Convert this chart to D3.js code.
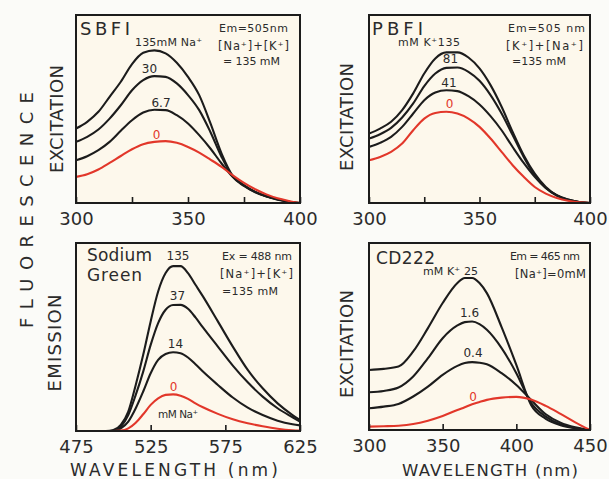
<!DOCTYPE html>
<html><head><meta charset="utf-8">
<script src="https://cdn.jsdelivr.net/npm/d3@7"></script>
<style>
body{margin:0;background:#fbfbf8;}
text{font-family:"DejaVu Sans",sans-serif;fill:#2b2b2b;}
</style>
</head><body>
<svg id="chart" width="609" height="479"></svg>
<script>
// ---------- DATA ----------
const sbfiWl = [300,305,310,315,320,325,330,335,340,345,350,355,360,365,370,375,380,385,390,395,400];
const sbfi135 = [39.6,43.2,48.5,56.5,64.5,73.9,79.9,81.2,79.6,74.6,67.1,57.4,42.5,26.3,14.4,9.4,5.9,3.6,2.0,0.7,0];
const sbfi30  = [32.5,35.2,39.1,44.9,52.0,60.0,65.4,67.5,67.1,63.6,57.4,49.4,37.8,24.5,13.9,9.1,5.7,3.4,1.8,0.7,0];
const sbfi6_7 = [22.7,24.9,28.1,32.5,38.4,44.0,48.1,49.6,49.4,46.7,42.3,36.1,29.0,21.0,13.9,9.4,5.9,3.6,2.0,0.7,0];
const sbfi0   = [13.9,15.3,17.8,21.3,25.0,28.6,31.3,32.5,32.9,32.0,29.8,26.8,23.1,19.2,14.7,10.7,7.3,4.6,2.5,1.1,0];

const pbfiWl = [300,305,310,315,320,325,330,335,340,345,350,355,360,365,370,375,380,385,390,395,400];
const pbfi135 = [36.9,39.6,43.2,49.4,58.3,68.9,76.9,80.1,80.1,77.4,71.6,62.7,51.2,37.8,25.4,15.6,8.5,4.1,1.8,0.5,0];
const pbfi81  = [34.3,36.6,40.0,45.5,53.0,62.2,68.9,71.9,72.1,69.8,65.0,57.4,47.6,36.1,24.5,14.7,8.0,3.9,1.6,0.5,0];
const pbfi41  = [29.8,32.0,35.2,40.5,47.6,54.7,58.8,60.0,59.5,56.8,52.4,46.2,38.7,29.8,21.3,13.9,8.0,4.1,1.8,0.5,0];
const pbfi0   = [22.7,24.5,27.2,31.6,38.7,44.9,47.9,48.5,47.6,44.9,40.5,34.3,27.2,20.1,13.9,8.5,5.0,2.7,1.2,0.4,0];

const sgWl = [475,485,495,500,505,510,515,520,525,530,535,540,545,550,555,560,570,580,590,600,610,620,625];
const sg135 = [0,0,0,0.5,3.2,10.3,24.5,40.5,58.3,74.2,84.0,87.7,87.7,84.0,77.8,71.6,58.3,44.9,32.5,22.7,14.7,8.5,5.9];
const sg37  = [0,0,0,0,2.3,8.5,19.2,31.6,45.8,57.4,64.5,67.0,67.1,65.0,60.4,55.1,44.9,34.8,25.9,18.3,12.1,7.3,5.0];
const sg14  = [0,0,0,0,1.4,5.0,12.1,21.0,30.7,37.8,41.0,41.9,41.4,39.1,35.5,31.6,24.5,17.8,12.4,8.5,5.5,3.6,3.0];
const sg0   = [0,0,0,0,0.2,1.4,4.4,8.9,13.9,17.4,19.2,19.5,18.8,17.1,14.7,12.6,9.1,6.2,4.1,2.5,1.2,0.4,0.2];

const cdWl = [300,310,320,330,340,350,360,365,370,375,380,390,400,410,420,430,440,450];
const cd25  = [32.1,32.7,33.9,42.0,54.5,67.9,78.6,81.3,81.3,78.6,73.2,55.0,34.8,13.4,6.0,2.6,0.9,0];
const cd1_6 = [20.2,20.9,22.7,28.6,38.4,49.1,55.9,57.7,58.0,56.6,53.6,43.8,30.4,14.5,7.1,3.0,1.1,0];
const cd0_4 = [11.6,12.5,13.9,17.9,23.2,29.5,34.3,35.8,36.3,36.0,35.2,30.4,24.1,16.1,8.4,3.9,1.4,0];
const cd0   = [1.8,2.0,2.3,3.2,5.0,7.5,10.7,12.2,13.8,15.0,16.1,17.3,17.7,16.3,12.9,8.6,4.1,0];

const sbfiTicks = [300,325,350,375,400], sbfiTickLabels = [300,350,400];
const pbfiTicks = [300,325,350,375,400], pbfiTickLabels = [300,350,400];
const sgTicks = [475,525,575,625], sgTickLabels = [475,525,575,625];
const cdTicks = [300,350,400,450], cdTickLabels = [300,350,400,450];

// ---------- DRAW ----------
const RED = "#e2372a", BLACK = "#1c1c1c";
const svg = d3.select("#chart");

const panels = [
  {box:[76,15,300,203], dom:[300,400], wl:sbfiWl, ticks:sbfiTicks, tl:sbfiTickLabels, ylab:"EXCITATION", ylx:57, yly:119, ylw:108,
   series:[sbfi135,sbfi30,sbfi6_7,sbfi0]},
  {box:[369,15,590,203], dom:[300,400], wl:pbfiWl, ticks:pbfiTicks, tl:pbfiTickLabels, ylab:"EXCITATION", ylx:347, yly:117, ylw:108,
   series:[pbfi135,pbfi81,pbfi41,pbfi0]},
  {box:[76,243,300,431], dom:[475,625], wl:sgWl, ticks:sgTicks, tl:sgTickLabels, ylab:"EMISSION", ylx:55, yly:343, ylw:97,
   series:[sg135,sg37,sg14,sg0]},
  {box:[369,243,590,430], dom:[300,450], wl:cdWl, ticks:cdTicks, tl:cdTickLabels, ylab:"EXCITATION", ylx:347, yly:344, ylw:108,
   series:[cd25,cd1_6,cd0_4,cd0]}
];

panels.forEach(p => {
  const [x0,y0,x1,y1] = p.box;
  const x = d3.scaleLinear().domain(p.dom).range([x0,x1]);
  const y = d3.scaleLinear().domain([0,100]).range([y1,y0]);
  svg.append("rect").attr("x",x0).attr("y",y0).attr("width",x1-x0).attr("height",y1-y0)
     .attr("fill","#fdf8ec");
  const line = d3.line().x((d,i)=>x(p.wl[i])).y(d=>y(d)).curve(d3.curveMonotoneX);
  const clip = "clip"+x0+"_"+y0;
  svg.append("clipPath").attr("id",clip).append("rect").attr("x",x0).attr("y",y0-2).attr("width",x1-x0).attr("height",y1-y0+2);
  const g = svg.append("g").attr("clip-path",`url(#${clip})`);
  p.series.forEach((s,i) => {
    g.append("path").datum(s).attr("d",line).attr("fill","none")
      .attr("stroke", i===3 ? RED : BLACK).attr("stroke-width", 2.1).attr("stroke-linejoin","round");
  });
  const ax = d3.axisBottom(x).tickValues(p.ticks).tickSizeInner(-6).tickSizeOuter(0).tickPadding(9)
     .tickFormat(d => p.tl.includes(d) ? d : "");
  const ga = svg.append("g").attr("transform",`translate(0,${y1})`).call(ax);
  ga.select(".domain").remove();
  ga.selectAll("line").attr("stroke",BLACK).attr("stroke-width",1.6);
  ga.selectAll("text").attr("font-size",18).attr("fill","#333").style("font-family","'DejaVu Sans',sans-serif");
  svg.append("rect").attr("x",x0).attr("y",y0).attr("width",x1-x0).attr("height",y1-y0)
     .attr("fill","none").attr("stroke",BLACK).attr("stroke-width",2);
  svg.append("text").attr("transform",`translate(${p.ylx},${p.yly}) rotate(-90)`)
     .attr("text-anchor","middle").attr("dy","0.36em").attr("font-size",18)
     .attr("textLength",p.ylw).attr("lengthAdjust","spacing").text(p.ylab);
});

// annotations: [text, x, y, size, width|null, anchor, color]
const notes = [
  ["SBFI",80,35,18,50,"start"],
  ["135mM Na⁺",135,46,11,67,"start"],
  ["30",149.5,72.5,12,null,"middle"],
  ["6.7",161,106.5,12,null,"middle"],
  ["0",156.5,139,12,null,"middle",RED],
  ["Em=505nm",219,31.7,11,69,"start"],
  ["[Na⁺]+[K⁺]",218,50,11.5,71,"start"],
  ["= 135 mM",223,65,11,57,"start"],

  ["PBFI",372,35,18,51,"start"],
  ["mM K⁺135",398,46,11,62,"start"],
  ["81",450.5,63,12,null,"middle"],
  ["41",449,86.5,12,null,"middle"],
  ["0",449.5,108,12,null,"middle",RED],
  ["Em=505 nm",508,31.7,11,77,"start"],
  ["[K⁺]+[Na⁺]",506,50,11.5,77,"start"],
  ["=135 mM",512,65,11,54,"start"],

  ["Sodium",87,261.3,17,65,"start"],
  ["Green",87,280.7,17,55,"start"],
  ["135",178,259.7,12,null,"middle"],
  ["37",177.5,300.3,12,null,"middle"],
  ["14",175.5,348,12,null,"middle"],
  ["0",173.5,391.3,12,null,"middle",RED],
  ["mM Na⁺",158,418,10.5,40,"start"],
  ["Ex = 488 nm",222,259.7,11,70,"start"],
  ["[Na⁺]+[K⁺]",220,278,11.5,73,"start"],
  ["=135 mM",222,295.3,11,56,"start"],

  ["CD222",376,263.5,17,59,"start"],
  ["mM K⁺ 25",423,275,11,55,"start"],
  ["1.6",469.5,317.3,12,null,"middle"],
  ["0.4",473,357.3,12,null,"middle"],
  ["0",473,401.3,12,null,"middle",RED],
  ["Em = 465 nm",510,259.7,11,70,"start"],
  ["[Na⁺]=0mM",515,278,11.5,71,"start"],

  ["WAVELENGTH (nm)",70,476,17,208,"start"],
  ["WAVELENGTH (nm)",402,476,16.5,176,"start"]
];
notes.forEach(n => {
  const t = svg.append("text").attr("x",n[1]).attr("y",n[2]).attr("font-size",n[3])
    .attr("text-anchor",n[5]).text(n[0]);
  if (n[4]) t.attr("textLength",n[4]).attr("lengthAdjust","spacing");
  if (n[6]) t.style("fill",n[6]);
});

svg.append("text").attr("transform","translate(27,210) rotate(-90)")
  .attr("text-anchor","middle").attr("dy","0.36em").attr("font-size",18)
  .attr("textLength",236).attr("lengthAdjust","spacing").text("FLUORESCENCE");
</script>
</body></html>
